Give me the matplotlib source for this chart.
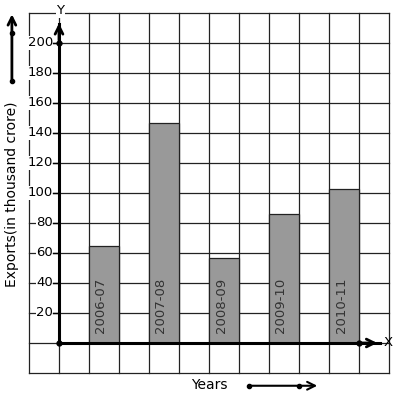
import numpy as np
import matplotlib.pyplot as plt

# data
years = ['2006-07', '2007-08', '2008-09', '2009-10', '2010-11']
exports = [65, 147, 57, 86, 103]
bar_pos = [1.5, 3.5, 5.5, 7.5, 9.5]
y_ticks = [20, 40, 60, 80, 100, 120, 140, 160, 180, 200]

fig = plt.figure(figsize=(3.97, 3.99), dpi=100)
ax = fig.add_axes([0, 0, 1, 1])
# 1 x unit = 30 px, 1 y unit = 1.5 px
ax.set_xlim(-59 / 30, (397 - 59) / 30)
ax.set_ylim(-56 / 1.5, 343 / 1.5)
ax.axis('off')

# graph paper grid
for gx in range(-1, 12):
    ax.plot([gx, gx], [-20, 220], color='#222222', lw=0.9, zorder=1)
for gy in range(-20, 221, 20):
    ax.plot([-1, 11], [gy, gy], color='#222222', lw=0.9, zorder=1)

# bars
ax.bar(bar_pos, exports, width=1.0, color='#999999', edgecolor='#222222',
       linewidth=0.9, zorder=2)
for x, lab in zip(bar_pos, years):
    ax.text(x - 0.1, 6.5, lab, rotation=90, ha='center', va='bottom',
            fontsize=9.5, color='#333333', zorder=3)

# axes with arrows
ax.plot([0, 0], [0, 213], color='black', lw=2.2, zorder=4)
ax.plot([0, 10.7], [0, 0], color='black', lw=2.2, zorder=4)
ax.annotate('', xy=(0, 215), xytext=(0, 200),
            arrowprops=dict(arrowstyle='->', lw=2, color='black',
                            mutation_scale=14), zorder=5)
ax.annotate('', xy=(10.7, 0), xytext=(10.0, 0),
            arrowprops=dict(arrowstyle='->', lw=2, color='black',
                            mutation_scale=14), zorder=5)
ax.plot([0, 0, 10], [0, 200, 0], 'o', color='black', ms=3.5, zorder=6)
ax.text(0.05, 221.5, 'Y', ha='center', va='center', fontsize=9.5,
        bbox=dict(facecolor='white', edgecolor='none', pad=0.5), zorder=6)
ax.text(10.97, 0.5, 'X', ha='center', va='center', fontsize=9.5, zorder=6)

# y tick labels
for v in y_ticks:
    ax.plot([-0.2, 0], [v, v], color='black', lw=1, zorder=4)
    ax.text(-0.2, v, str(v), ha='right', va='center', fontsize=9.5,
            bbox=dict(facecolor='white', edgecolor='none', pad=0.3), zorder=3)

# axis titles
ax.text(-1.57, 99, 'Exports(in thousand crore)', rotation=90, ha='center',
        va='center', fontsize=10)
ax.text(5.0, -28, 'Years', ha='center', va='center', fontsize=10)

# decorative arrows
ax.annotate('', xy=(8.7, -28.5), xytext=(6.3, -28.5),
            arrowprops=dict(arrowstyle='->', lw=1.5, color='black',
                            mutation_scale=14))
ax.plot([6.33, 8.0], [-28.5, -28.5], 'o', color='black', ms=3)
ax.annotate('', xy=(-1.57, 221), xytext=(-1.57, 174),
            arrowprops=dict(arrowstyle='->', lw=2, color='black',
                            mutation_scale=14))
ax.plot([-1.57, -1.57], [174.5, 207], 'o', color='black', ms=3)

fig.savefig('out.png', dpi=100)
